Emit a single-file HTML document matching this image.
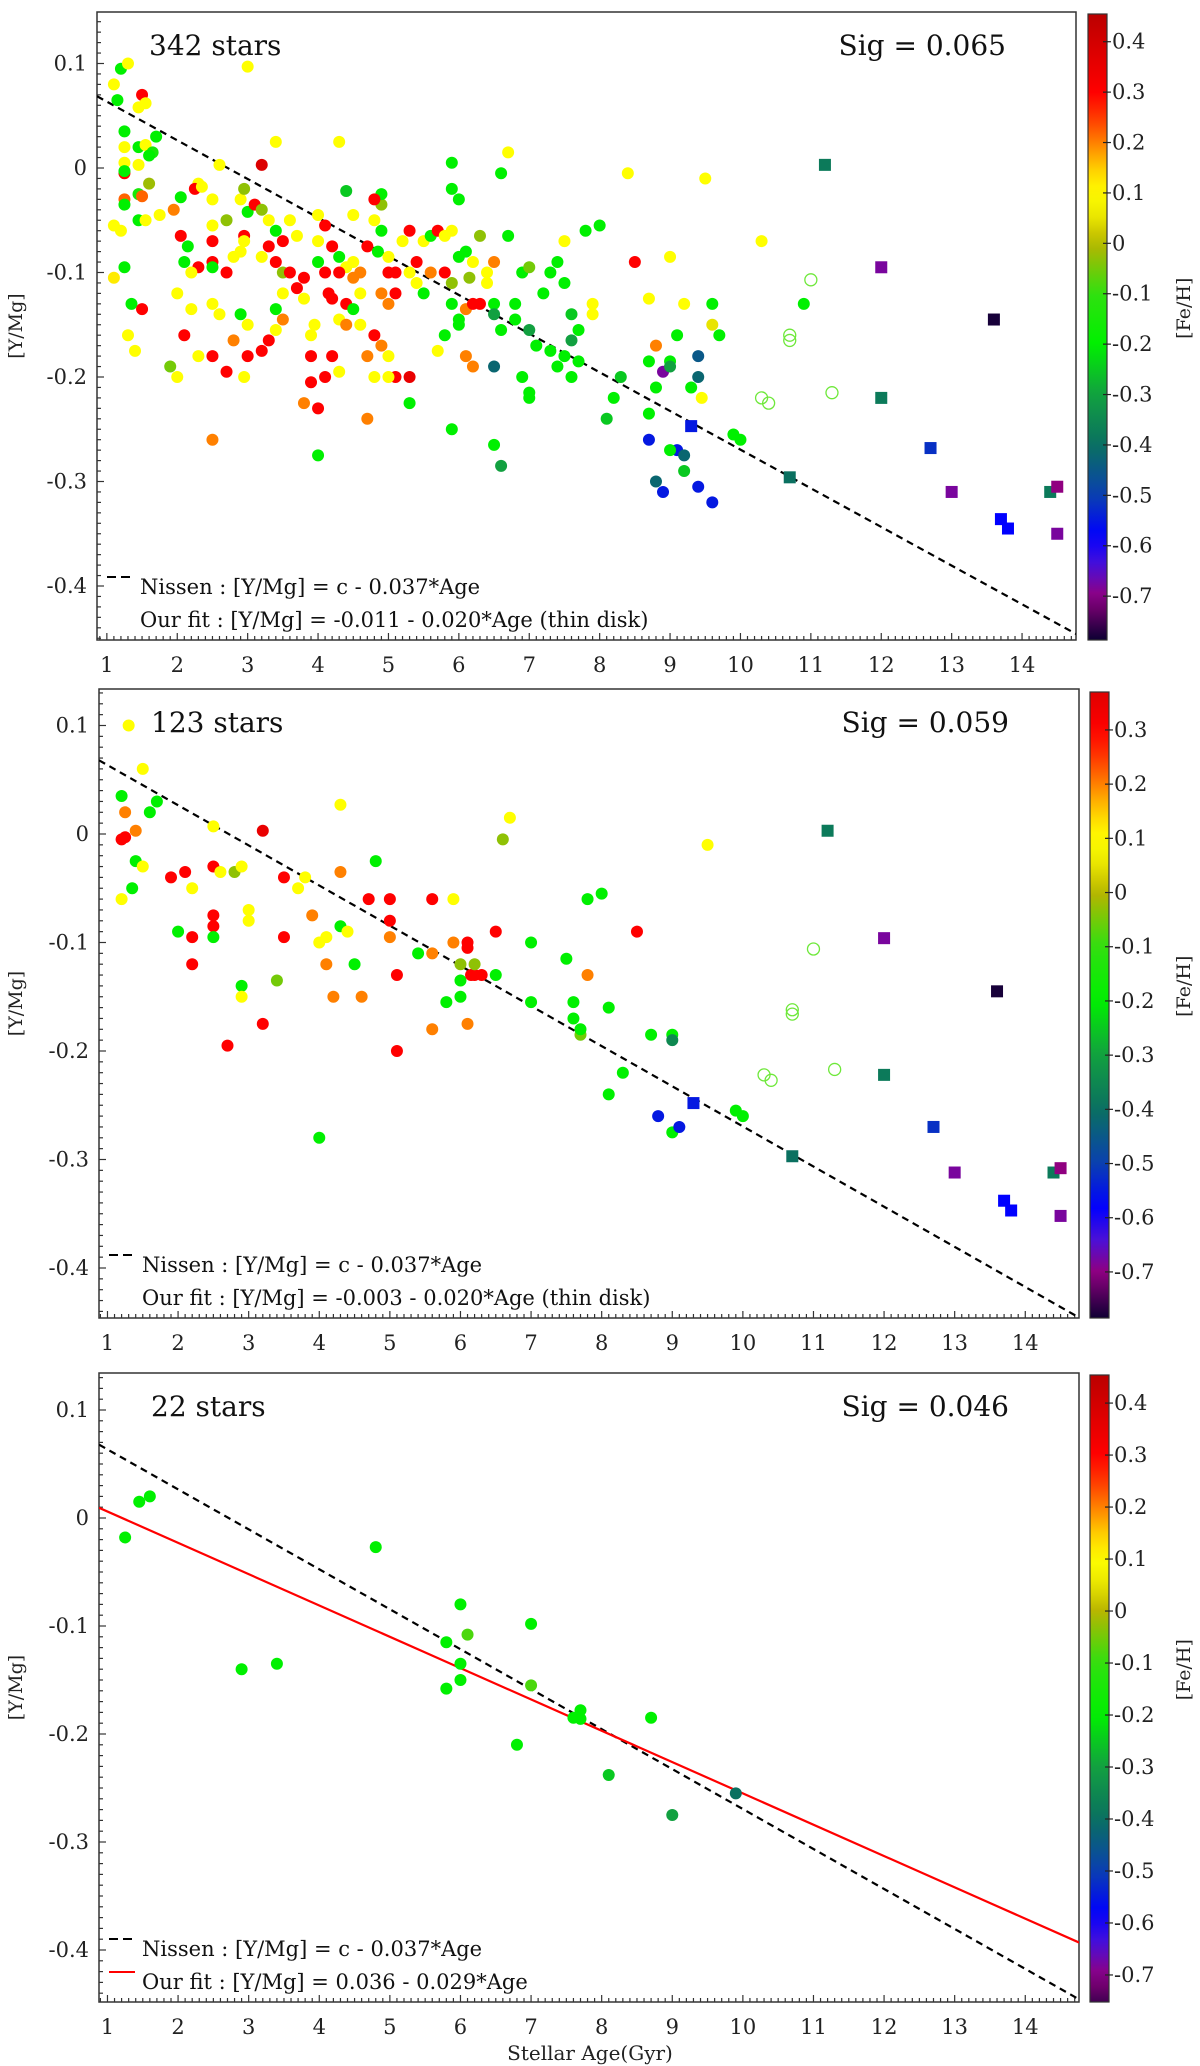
<!DOCTYPE html>
<html><head><meta charset="utf-8"><style>
html,body{margin:0;padding:0;background:#fff;}
svg{display:block;font-family:"DejaVu Serif","Liberation Serif",serif;}
</style></head><body>
<svg id="fig" width="1200" height="2066" viewBox="0 0 1200 2066" xmlns="http://www.w3.org/2000/svg"></svg>
<script>
// ---------- DATA ----------
// each star: [age (Gyr), [Y/Mg], [Fe/H]]
const p1Stars = [
[1.1,0.08,0.1],[1.15,0.065,-0.2],[1.2,0.095,-0.2],[1.3,0.1,0.1],[1.25,0.035,-0.2],[1.25,0.02,0.1],[1.25,0.005,0.1],
[1.25,-0.005,0.3],[1.25,-0.003,-0.2],[1.25,-0.03,0.22],[1.25,-0.035,-0.2],[1.1,-0.055,0.1],[1.2,-0.06,0.1],[1.1,-0.105,0.12],
[1.25,-0.095,-0.2],[1.45,0.058,0.1],[1.5,0.07,0.3],[1.55,0.062,0.1],[1.45,0.02,-0.2],[1.45,0.003,0.1],[1.55,0.022,0.1],
[1.65,0.015,-0.15],[1.7,0.03,-0.2],[1.6,0.012,-0.2],[1.6,-0.015,-0.02],[1.45,-0.025,-0.15],[1.5,-0.027,0.22],[1.45,-0.05,-0.2],
[1.55,-0.05,0.1],[1.75,-0.045,0.1],[1.35,-0.13,-0.2],[1.5,-0.135,0.3],[1.3,-0.16,0.1],[1.4,-0.175,0.1],
[2.3,-0.015,0.1],[2.25,-0.02,0.3],[2.35,-0.018,0.1],[2.05,-0.028,-0.2],[1.95,-0.04,0.2],[2.05,-0.065,0.3],[2.15,-0.075,-0.2],
[2.1,-0.09,-0.2],[2.3,-0.095,0.3],[2.2,-0.1,0.1],[2.0,-0.12,0.1],[2.2,-0.135,0.1],[2.1,-0.16,0.3],[2.3,-0.18,0.1],
[1.9,-0.19,-0.05],[2.0,-0.2,0.1],[2.5,-0.03,0.1],[2.5,-0.055,0.1],[2.5,-0.07,0.3],[2.5,-0.09,0.3],[2.5,-0.095,-0.2],
[2.7,-0.1,0.3],[2.8,-0.085,0.1],[2.7,-0.05,-0.03],[2.9,-0.03,0.1],[2.95,-0.02,-0.03],[3.0,-0.042,-0.2],[2.95,-0.065,0.3],
[2.95,-0.07,0.1],[2.9,-0.08,0.1],[2.5,-0.13,0.1],[2.6,-0.14,0.1],[2.5,-0.18,0.3],[2.5,-0.26,0.2],[2.7,-0.195,0.3],
[2.8,-0.165,0.2],[2.9,-0.14,-0.2],[3.0,-0.15,0.1],[3.0,-0.18,0.3],[2.95,-0.2,0.1],[3.0,0.097,0.1],[2.6,0.003,0.1],
[3.2,0.003,0.38],[3.4,0.025,0.1],[3.1,-0.035,0.3],[3.2,-0.04,-0.03],[3.3,-0.05,0.1],[3.4,-0.06,-0.2],[3.3,-0.075,0.3],
[3.2,-0.085,0.1],[3.5,-0.07,0.3],[3.4,-0.09,0.3],[3.5,-0.1,-0.03],[3.6,-0.1,0.3],[3.8,-0.105,0.3],[3.7,-0.115,0.3],
[3.5,-0.12,0.1],[3.4,-0.135,-0.2],[3.5,-0.145,0.2],[3.3,-0.165,0.3],[3.2,-0.175,0.3],[3.4,-0.155,0.1],[3.6,-0.05,0.1],
[3.7,-0.065,0.1],[3.8,-0.125,0.1],[3.9,-0.16,0.1],[3.9,-0.18,0.3],[3.9,-0.205,0.3],[3.8,-0.225,0.2],[4.0,-0.23,0.3],
[4.0,-0.275,-0.2],[3.95,-0.15,0.1],[4.0,-0.09,-0.2],[4.0,-0.07,0.1],[4.1,-0.1,0.3],[4.15,-0.12,0.3],[4.1,-0.055,0.3],
[4.0,-0.045,0.1],[4.3,0.025,0.1],[4.4,-0.022,-0.25],[4.5,-0.045,0.1],[4.2,-0.075,0.3],[4.3,-0.085,-0.2],[4.4,-0.095,0.1],
[4.3,-0.1,0.3],[4.5,-0.09,0.1],[4.2,-0.125,0.3],[4.4,-0.13,0.3],[4.5,-0.135,-0.2],[4.6,-0.12,0.1],[4.3,-0.145,0.1],
[4.4,-0.15,0.2],[4.6,-0.15,0.1],[4.2,-0.18,0.3],[4.3,-0.195,0.1],[4.1,-0.2,0.3],[4.7,-0.18,0.2],[4.7,-0.075,0.3],
[4.8,-0.05,0.1],[4.9,-0.035,-0.03],[4.9,-0.06,-0.2],[4.85,-0.08,-0.2],[5.0,-0.085,0.1],[5.0,-0.1,0.3],[5.1,-0.1,0.3],
[4.9,-0.12,0.2],[5.0,-0.13,0.2],[5.1,-0.12,0.3],[4.8,-0.16,0.3],[4.9,-0.17,0.2],[5.0,-0.18,0.1],[4.8,-0.2,0.1],
[4.7,-0.24,0.2],[5.1,-0.2,0.3],[5.3,-0.2,0.35],[5.0,-0.2,0.1],[5.3,-0.225,-0.2],[4.9,-0.025,-0.2],[4.8,-0.03,0.3],
[4.5,-0.105,0.2],[4.6,-0.1,0.2],[5.2,-0.07,0.1],[5.3,-0.06,0.3],[5.5,-0.07,0.1],[5.6,-0.065,-0.2],[5.4,-0.09,0.3],
[5.3,-0.1,0.1],[5.4,-0.11,0.1],[5.5,-0.12,-0.2],[5.6,-0.1,0.2],[5.7,-0.06,0.3],[5.8,-0.065,0.1],[5.9,-0.02,-0.2],
[5.9,0.005,-0.2],[6.0,-0.03,-0.2],[5.9,-0.06,0.1],[5.8,-0.1,0.3],[5.9,-0.11,-0.03],[5.9,-0.13,-0.2],[6.0,-0.085,-0.2],
[6.1,-0.08,-0.2],[6.0,-0.145,-0.2],[6.0,-0.15,-0.2],[6.1,-0.135,0.2],[6.1,-0.18,0.2],[5.7,-0.175,0.1],[5.8,-0.16,-0.2],
[5.9,-0.25,-0.2],[6.2,-0.09,0.1],[6.2,-0.13,0.3],[6.3,-0.13,0.3],[6.15,-0.105,-0.03],[6.2,-0.19,0.2],[6.4,-0.1,0.1],
[6.3,-0.065,-0.03],[6.5,-0.09,0.2],[6.4,-0.11,0.1],[6.5,-0.13,-0.2],[6.5,-0.14,-0.3],[6.5,-0.19,-0.42],[6.5,-0.265,-0.2],
[6.6,-0.285,-0.3],[6.6,-0.005,-0.2],[6.7,0.015,0.1],[6.7,-0.065,-0.2],[6.6,-0.155,-0.2],[6.8,-0.13,-0.2],[6.8,-0.145,-0.2],
[6.9,-0.1,-0.2],[6.9,-0.2,-0.2],[7.0,-0.095,-0.05],[7.0,-0.155,-0.3],[7.0,-0.215,-0.2],[7.0,-0.22,-0.2],[7.1,-0.17,-0.2],
[7.2,-0.12,-0.2],[7.3,-0.175,-0.2],[7.3,-0.1,-0.2],[7.4,-0.09,-0.2],[7.5,-0.07,0.1],[7.5,-0.11,-0.2],[7.4,-0.19,-0.2],
[7.5,-0.18,-0.2],[7.6,-0.14,-0.25],[7.7,-0.155,-0.2],[7.7,-0.185,-0.2],[7.6,-0.165,-0.3],[7.6,-0.2,-0.2],[7.8,-0.06,-0.2],
[7.9,-0.13,0.1],[7.9,-0.14,0.1],[8.0,-0.055,-0.2],[8.1,-0.24,-0.25],[8.2,-0.22,-0.2],[8.3,-0.2,-0.25],[8.5,-0.09,0.3],
[8.4,-0.005,0.1],[8.7,-0.125,0.1],[8.8,-0.17,0.2],[8.7,-0.185,-0.2],[8.8,-0.21,-0.2],[8.7,-0.235,-0.2],[8.7,-0.26,-0.55],
[8.8,-0.3,-0.42],[8.9,-0.31,-0.55],[8.9,-0.195,-0.68],[9.0,-0.085,0.1],[9.0,-0.185,-0.2],[9.0,-0.19,-0.3],[9.1,-0.16,-0.2],
[9.2,-0.13,0.1],[9.1,-0.27,-0.55],[9.0,-0.27,-0.2],[9.2,-0.275,-0.42],[9.2,-0.29,-0.25],[9.3,-0.21,-0.2],[9.4,-0.18,-0.45],
[9.4,-0.2,-0.42],[9.4,-0.305,-0.55],[9.45,-0.22,0.1],[9.5,-0.01,0.1],[9.6,-0.13,-0.2],[9.6,-0.15,0.05],[9.6,-0.32,-0.55],
[9.7,-0.16,-0.2],[9.9,-0.255,-0.2],[10.0,-0.26,-0.2],[10.3,-0.07,0.1],[10.9,-0.13,-0.2]
];
const p1Open = [[10.3,-0.22,-0.12],[10.4,-0.225,-0.12],[10.7,-0.16,-0.12],[10.7,-0.165,-0.12],[11.0,-0.107,-0.12],[11.3,-0.215,-0.12]];
const p1Squares = [[9.3,-0.247,-0.55],[10.7,-0.296,-0.4],[11.2,0.003,-0.38],[12.0,-0.095,-0.68],[12.0,-0.22,-0.38],[12.7,-0.268,-0.52],
[13.0,-0.31,-0.68],[13.6,-0.145,-0.78],[13.7,-0.336,-0.58],[13.8,-0.345,-0.58],[14.4,-0.31,-0.38],[14.5,-0.305,-0.7],[14.5,-0.35,-0.68]];

const p2Stars = [
[1.3,0.1,0.1],[1.5,0.06,0.1],[1.2,0.035,-0.2],[1.25,0.02,0.2],[1.4,0.003,0.2],[1.6,0.02,-0.2],[1.7,0.03,-0.2],[1.2,-0.005,0.3],
[1.25,-0.003,0.3],[1.4,-0.025,-0.2],[1.5,-0.03,0.1],[1.2,-0.06,0.1],[1.35,-0.05,-0.2],[1.9,-0.04,0.3],[2.1,-0.035,0.3],
[2.2,-0.05,0.1],[2.5,0.007,0.1],[2.5,-0.03,0.3],[2.6,-0.035,0.1],[2.0,-0.09,-0.2],[2.2,-0.095,0.3],[2.5,-0.085,0.3],
[2.5,-0.075,0.3],[2.5,-0.095,-0.2],[2.2,-0.12,0.3],[2.8,-0.035,-0.03],[2.9,-0.03,0.1],[3.0,-0.07,0.1],[3.0,-0.08,0.1],
[3.2,0.003,0.35],[2.9,-0.14,-0.2],[2.9,-0.15,0.1],[3.2,-0.175,0.3],[2.7,-0.195,0.3],[3.4,-0.135,-0.05],[3.5,-0.04,0.3],
[3.5,-0.095,0.3],[3.7,-0.05,0.1],[3.8,-0.04,0.1],[3.9,-0.075,0.2],[4.0,-0.1,0.1],[4.1,-0.095,0.1],[4.1,-0.12,0.2],
[4.2,-0.15,0.2],[4.0,-0.28,-0.2],[4.3,0.027,0.1],[4.3,-0.035,0.2],[4.3,-0.085,-0.2],[4.4,-0.09,0.1],[4.5,-0.12,-0.2],
[4.6,-0.15,0.2],[4.7,-0.06,0.3],[4.8,-0.025,-0.2],[5.0,-0.06,0.3],[5.0,-0.08,0.3],[5.0,-0.095,0.2],[5.1,-0.13,0.3],
[5.1,-0.2,0.3],[5.4,-0.11,-0.2],[5.6,-0.06,0.3],[5.6,-0.11,0.2],[5.6,-0.18,0.2],[5.8,-0.155,-0.2],[5.9,-0.06,0.1],
[5.9,-0.1,0.2],[6.0,-0.12,-0.03],[6.0,-0.135,-0.2],[6.1,-0.105,0.3],[6.1,-0.1,0.3],[6.0,-0.15,-0.2],[6.1,-0.175,0.2],
[6.15,-0.13,0.3],[6.2,-0.13,0.3],[6.3,-0.13,0.3],[6.2,-0.12,-0.03],[6.5,-0.09,0.3],[6.5,-0.13,-0.2],[6.6,-0.005,-0.03],
[6.7,0.015,0.1],[7.0,-0.1,-0.2],[7.0,-0.155,-0.2],[7.5,-0.115,-0.2],[7.6,-0.155,-0.2],[7.6,-0.17,-0.2],[7.7,-0.185,-0.05],
[7.7,-0.18,-0.2],[7.8,-0.06,-0.2],[7.8,-0.13,0.2],[8.0,-0.055,-0.2],[8.1,-0.16,-0.2],[8.1,-0.24,-0.2],[8.3,-0.22,-0.2],
[8.5,-0.09,0.3],[8.7,-0.185,-0.2],[8.8,-0.26,-0.55],[9.0,-0.185,-0.2],[9.0,-0.19,-0.35],[9.0,-0.275,-0.2],[9.1,-0.27,-0.55],
[9.9,-0.255,-0.2],[10.0,-0.26,-0.2],[9.5,-0.01,0.1]
];
const p2Open = [[10.3,-0.222,-0.12],[10.4,-0.227,-0.12],[10.7,-0.162,-0.12],[10.7,-0.166,-0.12],[11.0,-0.106,-0.12],[11.3,-0.217,-0.12]];
const p2Squares = [[9.3,-0.248,-0.55],[10.7,-0.297,-0.4],[11.2,0.003,-0.38],[12.0,-0.096,-0.68],[12.0,-0.222,-0.38],[12.7,-0.27,-0.52],
[13.0,-0.312,-0.68],[13.6,-0.145,-0.78],[13.7,-0.338,-0.58],[13.8,-0.347,-0.58],[14.4,-0.312,-0.38],[14.5,-0.308,-0.7],[14.5,-0.352,-0.68]];

const p3Stars = [
[1.25,-0.018,-0.2],[1.45,0.015,-0.2],[1.6,0.02,-0.2],[2.9,-0.14,-0.2],[3.4,-0.135,-0.2],[4.8,-0.027,-0.2],[5.8,-0.115,-0.2],
[5.8,-0.158,-0.2],[6.0,-0.08,-0.2],[6.0,-0.135,-0.2],[6.0,-0.15,-0.2],[6.1,-0.108,-0.08],[6.8,-0.21,-0.2],[7.0,-0.098,-0.2],
[7.0,-0.155,-0.08],[7.6,-0.185,-0.2],[7.7,-0.178,-0.2],[7.7,-0.186,-0.2],[8.1,-0.238,-0.25],[8.7,-0.185,-0.2],[9.0,-0.275,-0.3],[9.9,-0.255,-0.4]
];

const xTicks = [1,2,3,4,5,6,7,8,9,10,11,12,13,14];
const yTicks = [0.1,0,-0.1,-0.2,-0.3,-0.4];
const cbTicks1 = [0.4,0.3,0.2,0.1,0,-0.1,-0.2,-0.3,-0.4,-0.5,-0.6,-0.7];
const cbTicks2 = [0.3,0.2,0.1,0,-0.1,-0.2,-0.3,-0.4,-0.5,-0.6,-0.7];
const cbTicks3 = [0.4,0.3,0.2,0.1,0,-0.1,-0.2,-0.3,-0.4,-0.5,-0.6,-0.7];
const nissenSlope = -0.037, nissenIntercept = 0.1005;
const fitSlope3 = -0.029, fitIntercept3 = 0.035;

// colormap stops [FeH, color]
const cmap = [[-0.79,'#080030'],[-0.7,'#900080'],[-0.64,'#4a10d8'],[-0.58,'#0000ff'],[-0.5,'#0a40b0'],[-0.4,'#0a7060'],
[-0.3,'#12a040'],[-0.2,'#00f000'],[-0.1,'#30e010'],[0,'#b8b400'],[0.05,'#e8e400'],[0.1,'#ffff00'],[0.15,'#ffcc00'],
[0.2,'#ff8000'],[0.25,'#ff3800'],[0.3,'#ff0000'],[0.46,'#b80000']];

// ---------- DRAWING ----------
const NS='http://www.w3.org/2000/svg';
const svg=document.getElementById('fig');
function el(tag,attrs,parent){const e=document.createElementNS(NS,tag);for(const k in attrs)e.setAttribute(k,attrs[k]);(parent||svg).appendChild(e);return e;}
function hex2rgb(h){return [parseInt(h.substr(1,2),16),parseInt(h.substr(3,2),16),parseInt(h.substr(5,2),16)];}
function colorOf(v){
  if(v<=cmap[0][0])return cmap[0][1];
  for(let i=1;i<cmap.length;i++){if(v<=cmap[i][0]){const a=cmap[i-1],b=cmap[i];const t=(v-a[0])/(b[0]-a[0]);
    const ca=hex2rgb(a[1]),cb=hex2rgb(b[1]);return 'rgb('+ca.map((c,j)=>Math.round(c+(cb[j]-c)*t)).join(',')+')';}}
  return cmap[cmap.length-1][1];
}
function fmt(v){return v===0?'0':String(Math.round(v*10)/10);}

function panel(cfg){
  const g=el('g',{});
  
  
  const xs=a=>cfg.left+(a-cfg.x0)*cfg.xs;
  const ys=v=>cfg.y0px-v*cfg.ys;
  const cs=v=>cfg.cbTop+(cfg.cbMax-v)/(cfg.cbMax-cfg.cbMin)*(cfg.bottom-cfg.cbTop);
  const clipId='clip'+cfg.idx;
  const cp=el('clipPath',{id:clipId},g);el('rect',{x:cfg.left,y:cfg.top,width:cfg.right-cfg.left,height:cfg.bottom-cfg.top},cp);
  // axes frame
  const frame=el('rect',{x:cfg.left,y:cfg.top,width:cfg.right-cfg.left,height:cfg.bottom-cfg.top,fill:'none',stroke:'#333','stroke-width':1.5},g);
  
  
  // x ticks
  const xt=el('g',{},g);
  
  
  for(let m=Math.ceil(cfg.x0*10);m/10<=cfg.x1;m++){const a=m/10;const major=(m%10===0);
    el('line',{x1:xs(a),x2:xs(a),y1:cfg.bottom,y2:cfg.bottom-(major?7:4),stroke:'#333','stroke-width':1.2},xt);}
  xTicks.forEach(t=>{const tx=el('text',{x:xs(t),y:cfg.bottom+32,'text-anchor':'middle','font-size':21,fill:'#222'},xt);tx.textContent=t;
    
    });
  // y ticks
  const yt=el('g',{},g);
  
  
  const vTop=(cfg.y0px-cfg.top)/cfg.ys, vBot=(cfg.y0px-cfg.bottom)/cfg.ys;
  for(let m=Math.ceil(vBot*100);m/100<=vTop;m++){const v=m/100;const major=(m%10===0);
    el('line',{x1:cfg.left,x2:cfg.left+(major?7:4),y1:ys(v),y2:ys(v),stroke:'#333','stroke-width':1.2},yt);}
  yTicks.forEach(t=>{const tx=el('text',{x:cfg.left-10,y:ys(t)+7,'text-anchor':'end','font-size':21,fill:'#222'},yt);tx.textContent=fmt(t);
    
    });
  const yl=el('text',{transform:'translate(22,'+((cfg.top+cfg.bottom)/2)+') rotate(-90)','text-anchor':'middle','font-size':19,fill:'#222'},g);
  yl.textContent='[Y/Mg]';
  
  
  // data layer
  const dl=el('g',{'clip-path':'url(#'+clipId+')'},g);
  
  
  // nissen line
  const nl=el('line',{x1:xs(cfg.x0),y1:ys(nissenIntercept+nissenSlope*cfg.x0),x2:xs(cfg.x1),y2:ys(nissenIntercept+nissenSlope*cfg.x1),stroke:'#000','stroke-width':2.2,'stroke-dasharray':'7,5'},dl);
  
  
  if(cfg.fit){const fl=el('line',{x1:xs(cfg.x0),y1:ys(fitIntercept3+fitSlope3*cfg.x0),x2:xs(cfg.x1),y2:ys(fitIntercept3+fitSlope3*cfg.x1),stroke:'#f00','stroke-width':2.2},dl);
    
    }
  cfg.stars.forEach(s=>{const c=el('circle',{cx:xs(s[0]),cy:ys(s[1]),r:6,fill:colorOf(s[2])},dl);
    
    });
  (cfg.open||[]).forEach(s=>{const c=el('circle',{cx:xs(s[0]),cy:ys(s[1]),r:6,fill:'none',stroke:'#6ee83a','stroke-width':1.3},dl);
    
    });
  (cfg.squares||[]).forEach(s=>{const c=el('rect',{x:xs(s[0])-6,y:ys(s[1])-6,width:12,height:12,fill:colorOf(s[2])},dl);
    
    });
  // annotations
  const t1=el('text',{x:cfg.left+52,y:cfg.top+43,'font-size':28,fill:'#111'},g);t1.textContent=cfg.count;
  
  
  const t2=el('text',{x:cfg.right-70,y:cfg.top+43,'font-size':28,'text-anchor':'end',fill:'#111'},g);t2.textContent=cfg.sig;
  
  
  // legend
  const lg=el('g',{},g);
  
  
  el('line',{x1:cfg.left+10,x2:cfg.left+36,y1:cfg.bottom-63,y2:cfg.bottom-63,stroke:'#000','stroke-width':2,'stroke-dasharray':'9,5'},lg);
  const l1=el('text',{x:cfg.left+43,y:cfg.bottom-46,'font-size':21,fill:'#111'},lg);l1.textContent='Nissen : [Y/Mg] = c - 0.037*Age';
  
  
  if(cfg.fit)el('line',{x1:cfg.left+10,x2:cfg.left+36,y1:cfg.bottom-30,y2:cfg.bottom-30,stroke:'#f00','stroke-width':2},lg);
  const l2=el('text',{x:cfg.left+43,y:cfg.bottom-13,'font-size':21,fill:'#111'},lg);l2.textContent=cfg.fitText;
  
  
  // colorbar
  const cb=el('g',{},g);
  
  
  const gid='grad'+cfg.idx;
  const lgd=el('linearGradient',{id:gid,x1:0,y1:0,x2:0,y2:1},cb);
  for(let i=0;i<=40;i++){const v=cfg.cbMax-(cfg.cbMax-cfg.cbMin)*i/40;el('stop',{offset:(i/40),'stop-color':colorOf(v)},lgd);}
  el('rect',{x:cfg.cbX,y:cfg.cbTop,width:19,height:cfg.bottom-cfg.cbTop,fill:'url(#'+gid+')',stroke:'#333','stroke-width':1.2},cb);
  cfg.cbTicks.forEach(t=>{el('line',{x1:cfg.cbX+15,x2:cfg.cbX+23,y1:cs(t),y2:cs(t),stroke:'#222','stroke-width':1.2},cb);
    const tx=el('text',{x:cfg.cbX+24,y:cs(t)+7,'font-size':21,fill:'#222'},cb);tx.textContent=fmt(t);
    
    });
  const ct=el('text',{transform:'translate(1190,'+(cfg.cbTop+(cfg.bottom-cfg.cbTop)*0.47)+') rotate(-90)','text-anchor':'middle','font-size':19,fill:'#222'},cb);
  ct.textContent='[Fe/H]';
  
  
}

panel({idx:1,name:'panel-all-stars',left:97,right:1076,top:12,bottom:640,x0:0.86,x1:14.77,xs:70.4,y0px:168,ys:1045,
  stars:p1Stars,open:p1Open,squares:p1Squares,count:'342 stars',sig:'Sig = 0.065',
  fitText:'Our fit : [Y/Mg] = -0.011 - 0.020*Age (thin disk)',cbX:1088,cbTop:14,cbMax:0.455,cbMin:-0.787,cbTicks:cbTicks1});
panel({idx:2,name:'panel-123-stars',left:99,right:1079,top:689,bottom:1318,x0:0.88,x1:14.77,xs:70.6,y0px:834,ys:1085,
  stars:p2Stars,open:p2Open,squares:p2Squares,count:'123 stars',sig:'Sig = 0.059',
  fitText:'Our fit : [Y/Mg] = -0.003 - 0.020*Age (thin disk)',cbX:1090,cbTop:692,cbMax:0.37,cbMin:-0.785,cbTicks:cbTicks2});
panel({idx:3,name:'panel-22-stars',left:99,right:1079,top:1373,bottom:2002,x0:0.88,x1:14.77,xs:70.6,y0px:1518,ys:1080,
  stars:p3Stars,fit:true,count:'22 stars',sig:'Sig = 0.046',
  fitText:'Our fit : [Y/Mg] = 0.036 - 0.029*Age',cbX:1090,cbTop:1375,cbMax:0.454,cbMin:-0.752,cbTicks:cbTicks3});

const xl=el('text',{x:590,y:2060,'text-anchor':'middle','font-size':20,fill:'#222'});
xl.textContent='Stellar Age(Gyr)';


</script>
</body></html>
